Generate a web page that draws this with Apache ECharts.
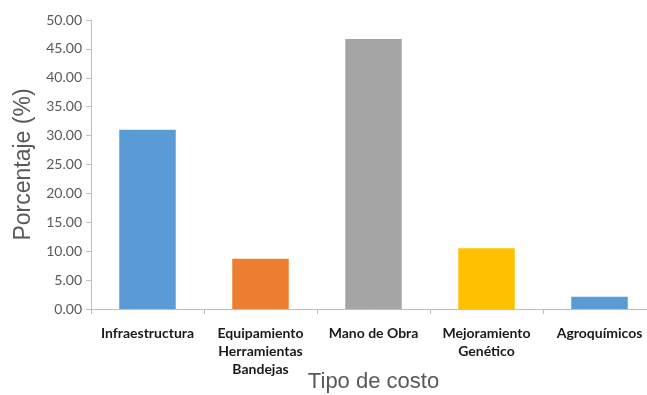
<!DOCTYPE html>
<html><head><meta charset="utf-8">
<script src="https://cdn.jsdelivr.net/npm/echarts@6/dist/echarts.min.js"></script>
<style>html,body{margin:0;padding:0;background:#fff}#c{width:647px;height:395px}</style>
</head><body><div id="c"></div>
<script>
const categories = ['Infraestructura', 'Equipamiento\nHerramientas\nBandejas', 'Mano de Obra', 'Mejoramiento\nGenético', 'Agroquímicos'];
const values = [31.0, 8.7, 46.7, 10.5, 2.1];
const barColors = ['#5b9bd5', '#ed7d31', '#a5a5a5', '#ffc000', '#5b9bd5'];
const yTicks = [0, 5, 10, 15, 20, 25, 30, 35, 40, 45, 50];

const chart = echarts.init(document.getElementById('c'));
chart.setOption({
  animation: false,
  grid: {left: 91, top: 20, width: 565, height: 289, outerBoundsMode: 'none', containLabel: false},
  xAxis: {
    type: 'category', data: categories,
    name: 'Tipo de costo', nameLocation: 'middle', nameGap: 62, nameMoveOverlap: false,
    nameTextStyle: {fontFamily: 'Liberation Sans', fontSize: 22, color: '#595959'},
    axisLine: {lineStyle: {color: '#bfbfbf', width: 1}},
    axisTick: {show: true, length: 5, lineStyle: {color: '#bfbfbf'}},
    axisLabel: {fontFamily: 'Lato', fontWeight: 'bold', fontSize: 14, color: '#1a1a1a', lineHeight: 18, margin: 15, interval: 0}
  },
  yAxis: {
    type: 'value', min: 0, max: 50, interval: 5,
    name: 'Porcentaje (%)', nameLocation: 'middle', nameGap: 56, nameMoveOverlap: false,
    nameTextStyle: {fontFamily: 'Liberation Sans', fontSize: 23, color: '#595959'},
    axisLine: {show: true, lineStyle: {color: '#bfbfbf', width: 1}},
    axisTick: {show: true, length: 5, lineStyle: {color: '#bfbfbf'}},
    splitLine: {show: false},
    axisLabel: {fontFamily: 'Lato', fontSize: 14, color: '#595959', margin: 9,
      formatter: v => yTicks.includes(v) ? v.toFixed(2) : ''}
  },
  series: [{
    type: 'bar', barWidth: '50%',
    data: values.map((v, i) => ({value: v, itemStyle: {color: barColors[i]}}))
  }]
});
</script></body></html>
